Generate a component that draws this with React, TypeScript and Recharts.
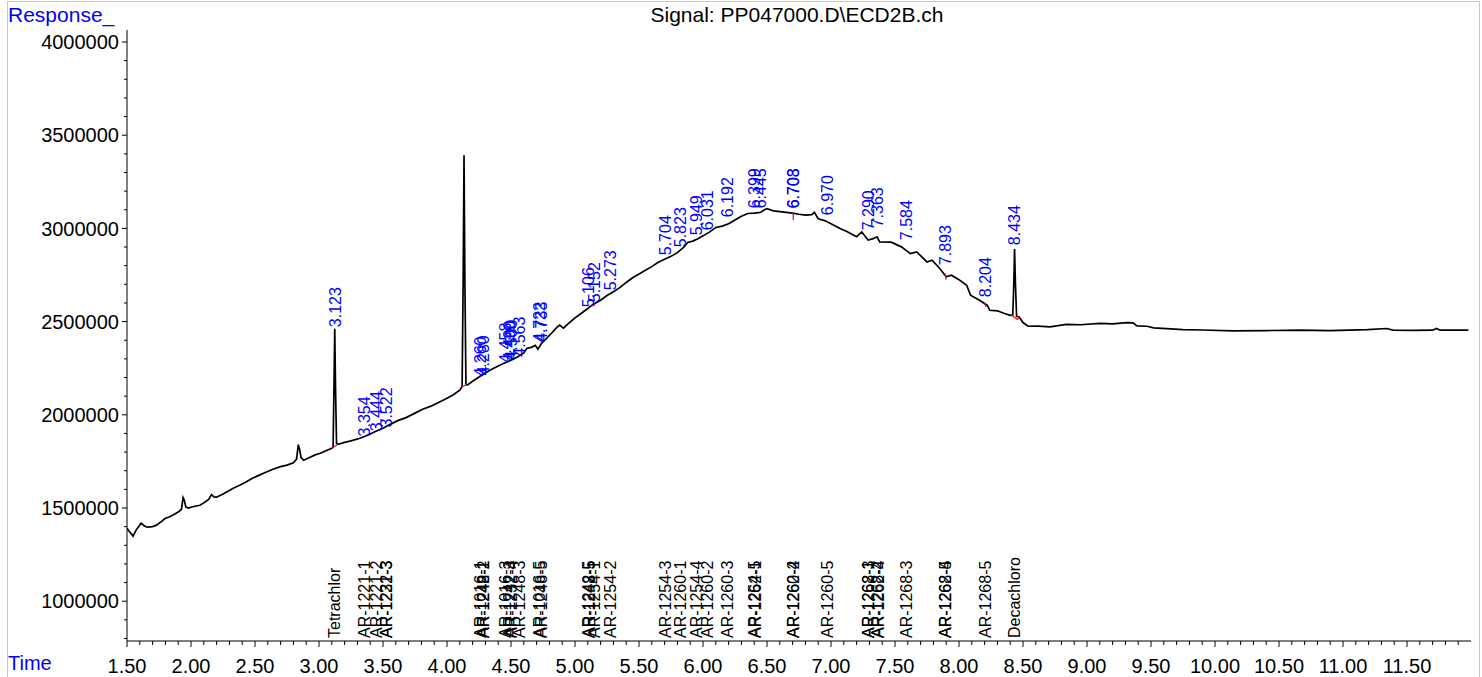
import React from 'react'
import { ComposedChart, Line, XAxis, YAxis, ReferenceDot, ReferenceLine } from 'recharts'

// chromatogram trace: [time (min), response]
const trace: [number, number][] = [
  [1.5, 1392000], [1.52, 1372000], [1.547, 1349000], [1.57, 1380000], [1.61, 1418000],
  [1.64, 1402000], [1.66, 1397000], [1.7, 1400000], [1.73, 1408000], [1.77, 1428000],
  [1.8, 1445000], [1.83, 1452000], [1.86, 1462000], [1.9, 1478000], [1.925, 1492000],
  [1.938, 1556000], [1.948, 1540000], [1.96, 1505000], [1.98, 1500000], [2.02, 1508000],
  [2.07, 1515000], [2.11, 1532000], [2.14, 1548000], [2.16, 1572000], [2.18, 1560000],
  [2.2, 1558000], [2.25, 1575000], [2.3, 1594000], [2.33, 1606000], [2.38, 1622000],
  [2.43, 1640000], [2.48, 1660000], [2.53, 1675000], [2.58, 1690000], [2.64, 1708000],
  [2.7, 1722000], [2.75, 1730000], [2.8, 1742000], [2.825, 1762000], [2.838, 1840000],
  [2.848, 1815000], [2.86, 1770000], [2.88, 1756000], [2.93, 1772000], [2.97, 1785000],
  [3.01, 1794000], [3.05, 1806000], [3.1, 1821000], [3.11, 1826000], [3.117, 2150000],
  [3.123, 2462000], [3.129, 2150000], [3.137, 1846000], [3.15, 1842000], [3.2, 1852000],
  [3.25, 1860000], [3.32, 1874000], [3.38, 1890000], [3.44, 1910000], [3.5, 1928000],
  [3.56, 1950000], [3.62, 1970000], [3.68, 1985000], [3.75, 2009000], [3.81, 2030000],
  [3.87, 2045000], [3.93, 2065000], [4.0, 2089000], [4.05, 2108000], [4.1, 2132000],
  [4.118, 2152000], [4.126, 2700000], [4.133, 3393000], [4.14, 2700000], [4.148, 2165000],
  [4.16, 2160000], [4.2, 2180000], [4.25, 2203000], [4.3, 2226000], [4.35, 2245000],
  [4.4, 2262000], [4.45, 2278000], [4.5, 2293000], [4.55, 2310000], [4.6, 2332000],
  [4.625, 2357000], [4.66, 2362000], [4.69, 2373000], [4.71, 2352000], [4.74, 2385000],
  [4.78, 2411000], [4.82, 2440000], [4.86, 2470000], [4.88, 2481000], [4.91, 2465000],
  [4.95, 2490000], [5.0, 2520000], [5.05, 2545000], [5.1, 2570000], [5.14, 2592000],
  [5.2, 2615000], [5.25, 2640000], [5.3, 2660000], [5.35, 2682000], [5.4, 2710000],
  [5.45, 2735000], [5.5, 2755000], [5.55, 2775000], [5.6, 2795000], [5.65, 2818000],
  [5.7, 2835000], [5.75, 2850000], [5.8, 2870000], [5.85, 2900000], [5.88, 2925000],
  [5.92, 2932000], [5.96, 2945000], [6.0, 2960000], [6.05, 2980000], [6.1, 3005000],
  [6.15, 3012000], [6.2, 3025000], [6.25, 3045000], [6.3, 3065000], [6.35, 3080000],
  [6.4, 3082000], [6.45, 3086000], [6.48, 3100000], [6.5, 3106000], [6.55, 3094000],
  [6.6, 3090000], [6.65, 3086000], [6.7, 3082000], [6.75, 3076000], [6.8, 3071000],
  [6.85, 3074000], [6.87, 3086000], [6.9, 3052000], [6.95, 3042000], [7.0, 3025000],
  [7.07, 3000000], [7.12, 2985000], [7.2, 2955000], [7.24, 2981000], [7.29, 2937000],
  [7.33, 2945000], [7.36, 2955000], [7.38, 2928000], [7.47, 2926000], [7.55, 2901000],
  [7.62, 2865000], [7.67, 2874000], [7.75, 2820000], [7.79, 2829000], [7.85, 2785000],
  [7.9, 2740000], [7.94, 2749000], [8.0, 2725000], [8.06, 2695000], [8.09, 2642000],
  [8.16, 2615000], [8.22, 2588000], [8.24, 2561000], [8.3, 2558000], [8.35, 2545000],
  [8.4, 2534000], [8.42, 2536000], [8.428, 2700000], [8.434, 2890000], [8.441, 2700000],
  [8.45, 2528000], [8.47, 2525000], [8.5, 2495000], [8.54, 2475000], [8.62, 2476000],
  [8.71, 2472000], [8.84, 2485000], [8.95, 2483000], [9.1, 2490000], [9.2, 2488000],
  [9.31, 2495000], [9.36, 2493000], [9.39, 2477000], [9.47, 2475000], [9.52, 2466000],
  [9.62, 2462000], [9.75, 2457000], [9.9, 2455000], [10.14, 2450000], [10.4, 2452000],
  [10.66, 2454000], [10.9, 2452000], [11.19, 2457000], [11.34, 2463000], [11.39, 2454000],
  [11.55, 2453000], [11.7, 2454000], [11.73, 2463000], [11.76, 2454000], [11.98, 2454000],
]

// integrated peaks: [retention time, response at label foot]
const peaks: [number, number][] = [
  [3.123, 2470000], [3.354, 1884000], [3.444, 1912000], [3.522, 1932000],
  [4.26, 2205000], [4.28, 2212000], [4.458, 2280000], [4.49, 2290000], [4.5, 2296000],
  [4.563, 2312000], [4.722, 2390000], [4.733, 2392000], [5.106, 2577000], [5.152, 2604000],
  [5.273, 2668000], [5.704, 2856000], [5.823, 2899000], [5.949, 2963000], [6.031, 2990000],
  [6.192, 3060000], [6.399, 3108000], [6.445, 3108000], [6.703, 3108000], [6.708, 3108000],
  [6.97, 3071000], [7.29, 2990000], [7.363, 3006000], [7.584, 2937000], [7.893, 2803000],
  [8.204, 2631000], [8.434, 2910000],
]

// compound names along the time axis
const compounds: [string, number][] = [
  ['Tetrachlor', 3.123], ['AR-1221-1', 3.354], ['AR-1221-2', 3.444], ['AR-1221-3', 3.522],
  ['AR-1232-3', 3.525], ['AR-1016-1', 4.26], ['AR-1242-1', 4.28], ['AR-1248-2', 4.28],
  ['AR-1016-3', 4.458], ['AR-1242-3', 4.49], ['AR-1232-4', 4.5], ['AR-1248-3', 4.563],
  ['AR-1016-5', 4.722], ['AR-1248-5', 4.733], ['AR-1242-5', 5.106], ['AR-1248-5', 5.11],
  ['AR-1254-1', 5.152], ['AR-1254-2', 5.273], ['AR-1254-3', 5.704], ['AR-1260-1', 5.823],
  ['AR-1254-4', 5.949], ['AR-1260-2', 6.031], ['AR-1260-3', 6.192], ['AR-1254-5', 6.399],
  ['AR-1262-1', 6.41], ['AR-1260-4', 6.703], ['AR-1262-2', 6.708], ['AR-1260-5', 6.97],
  ['AR-1268-1', 7.29], ['AR-1262-3', 7.293], ['AR-1268-2', 7.363], ['AR-1262-4', 7.366],
  ['AR-1268-3', 7.584], ['AR-1268-4', 7.893], ['AR-1262-5', 7.896], ['AR-1268-5', 8.204],
  ['Decachloro', 8.434],
]

// integration baselines: [t1, v1, t2, v2]
const baselines: [number, number, number, number][] = [
  [3.1, 1821000, 3.14, 1838000], [4.115, 2150000, 4.15, 2160000], [8.41, 2534000, 8.46, 2510000],
  [8.46, 2510000, 8.465, 2528000], [6.705, 3082000, 6.705, 3045000], [7.89, 2760000, 7.9, 2725000],
  [8.2, 2600000, 8.21, 2580000], [5.152, 2600000, 5.152, 2585000],
]

const xMajor = [1.5, 2, 2.5, 3, 3.5, 4, 4.5, 5, 5.5, 6, 6.5, 7, 7.5, 8, 8.5, 9, 9.5, 10, 10.5, 11, 11.5]
const yMajor = [1000000, 1500000, 2000000, 2500000, 3000000, 3500000, 4000000]

const xTicks = xMajor.flatMap((m) => [0, 1, 2, 3, 4].map((k) => +(m + k * 0.1).toFixed(1)))
const yTicks: number[] = []
for (let k = 8; k <= 40; k++) yTicks.push(k * 100000)

const FONT = '"Liberation Sans", Arial, Helvetica, sans-serif'
const BLUE = '#0000ff'

const XTick = (props: any) => {
  const { x, y, payload } = props
  const v = payload.value
  const major = Math.abs(v * 2 - Math.round(v * 2)) < 1e-6
  return (
    <g>
      <line x1={x} x2={x} y1={y} y2={y + (major ? 6 : 4)} stroke="#000" />
      {major && (
        <text x={x} y={y + 32} textAnchor="middle" fontSize={20} fill="#000" fontFamily={FONT}>
          {v.toFixed(2)}
        </text>
      )}
    </g>
  )
}

const YTick = (props: any) => {
  const { x, y, payload } = props
  const major = yMajor.includes(payload.value)
  return (
    <g>
      <line x1={x} x2={x - (major ? 5 : 3)} y1={y} y2={y} stroke="#000" />
      {major && (
        <text x={x - 8} y={y} dy="0.36em" textAnchor="end" fontSize={20} fill="#000" fontFamily={FONT}>
          {payload.value}
        </text>
      )}
    </g>
  )
}

const vText = (label: string, color: string, lift: number) => (p: any) => {
  const cx = p.cx
  const cy = p.cy - lift
  return (
    <text
      x={cx}
      y={cy}
      dy="0.36em"
      transform={`rotate(-90 ${cx} ${cy})`}
      fontSize={16}
      fill={color}
      fontFamily={FONT}
    >
      {label}
    </text>
  )
}

const data = trace.map(([t, v]) => ({ t, v }))

export default function App() {
  return (
    <div style={{ position: 'absolute', left: 0, top: 0, width: 1482, height: 677, background: '#fff', overflow: 'hidden', fontFamily: FONT }}>
      <div style={{ position: 'absolute', left: 7, top: 1, width: 1471, height: 690, border: '1px solid #8cf08c' }} />
      <div style={{ position: 'absolute', left: 8, top: 3, fontSize: 21, color: BLUE }}>Response_</div>
      <div style={{ position: 'absolute', left: 8, top: 652, fontSize: 20, lineHeight: '22px', color: BLUE }}>Time</div>
      <div style={{ position: 'absolute', left: 0, width: 1594, top: 3, textAlign: 'center', fontSize: 21, color: '#000' }}>
        Signal: PP047000.D\ECD2B.ch
      </div>
      <ComposedChart width={1482} height={677} data={data} margin={{ top: 30, right: 11, bottom: 0, left: 0 }} style={{ position: 'absolute', left: 0, top: 0 }}>
        <XAxis
          dataKey="t"
          type="number"
          domain={[1.5, 12]}
          allowDataOverflow
          ticks={xTicks}
          interval={0}
          height={36}
          tickSize={0}
          tickMargin={0}
          tickLine={false}
          tick={<XTick />}
          axisLine={{ stroke: '#808080', strokeWidth: 2 }}
        />
        <YAxis
          type="number"
          domain={[786500, 4064400]}
          allowDataOverflow
          ticks={yTicks}
          interval={0}
          width={127}
          tickSize={0}
          tickMargin={0}
          tickLine={false}
          tick={<YTick />}
          axisLine={{ stroke: '#000' }}
        />
        <Line dataKey="v" stroke="#000" strokeWidth={1.7} dot={false} activeDot={false} isAnimationActive={false} />
        {baselines.map(([t1, v1, t2, v2], i) => (
          <ReferenceLine key={`b${i}`} segment={[{ x: t1, y: v1 }, { x: t2, y: v2 }]} stroke="#ff0000" strokeWidth={1.2} ifOverflow="visible" />
        ))}
        {peaks.map(([t, v], i) => (
          <ReferenceDot key={`p${i}`} x={t} y={v} r={0} ifOverflow="visible" shape={vText(t.toFixed(3), BLUE, 0)} />
        ))}
        {compounds.map(([name, t], i) => (
          <ReferenceDot key={`c${i}`} x={t} y={786500} r={0} ifOverflow="visible" shape={vText(name, '#000', 3)} />
        ))}
      </ComposedChart>
    </div>
  )
}
